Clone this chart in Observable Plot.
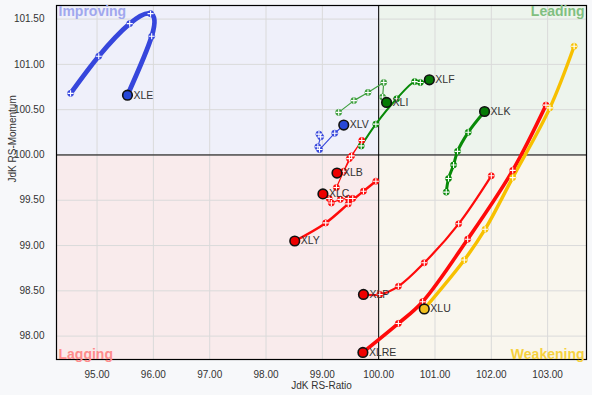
<!DOCTYPE html>
<html><head><meta charset="utf-8">
<script src="https://cdn.jsdelivr.net/npm/d3@7"></script>
<script src="https://cdn.jsdelivr.net/npm/@observablehq/plot@0.6"></script>
<style>
html,body{margin:0;padding:0;background:#f7f8fa;}
</style></head><body><div id="chart"></div>
<script>
// ---- data (tail order: oldest -> latest/head) ----
const tickers = ["XLE","XLV","XLI","XLF","XLK","XLB","XLC","XLY","XLP","XLRE","XLU"];

const XLE_RATIO = [94.53, 95.03, 95.58, 95.95, 95.97, 95.54];
const XLE_MOM   = [100.68, 101.09, 101.45, 101.56, 101.31, 100.66];

const XLV_RATIO = [98.94, 98.97, 98.92, 98.95, 99.22, 99.38];
const XLV_MOM   = [100.23, 100.20, 100.09, 100.06, 100.24, 100.33];

const XLI_RATIO = [99.29, 99.56, 99.81, 100.09, 100.07, 100.14];
const XLI_MOM   = [100.47, 100.60, 100.69, 100.80, 100.64, 100.58];

const XLF_RATIO = [99.69, 99.95, 100.32, 100.64, 100.74, 100.90];
const XLF_MOM   = [100.10, 100.34, 100.62, 100.81, 100.80, 100.83];

const XLK_RATIO = [101.20, 101.24, 101.33, 101.40, 101.59, 101.88];
const XLK_MOM   = [99.59, 99.74, 99.89, 100.04, 100.25, 100.48];

const XLB_RATIO = [99.25, 99.48, 99.70, 99.52, 99.38, 99.26];
const XLB_MOM   = [99.64, 99.96, 100.16, 99.99, 99.82, 99.80];

const XLC_RATIO = [99.54, 99.46, 99.32, 99.16, 99.12, 99.01];
const XLC_MOM   = [99.52, 99.52, 99.51, 99.47, 99.52, 99.57];

const XLY_RATIO = [99.95, 99.73, 99.46, 99.06, 98.51];
const XLY_MOM   = [99.71, 99.60, 99.46, 99.25, 99.05];

const XLP_RATIO = [102.00, 101.42, 100.81, 100.35, 100.02, 99.73];
const XLP_MOM   = [99.77, 99.24, 98.81, 98.55, 98.46, 98.46];

const XLRE_RATIO = [102.97, 102.38, 101.58, 100.78, 100.35, 99.72];
const XLRE_MOM   = [100.55, 99.83, 99.07, 98.38, 98.14, 97.82];

const XLU_RATIO = [103.47, 103.04, 102.38, 101.89, 101.52, 100.81];
const XLU_MOM   = [101.20, 100.52, 99.75, 99.18, 98.84, 98.30];

const xTicks = [95, 96, 97, 98, 99, 100, 101, 102, 103];
const yTicks = [98, 98.5, 99, 99.5, 100, 100.5, 101, 101.5];
const quadrantNames = ["Improving", "Leading", "Lagging", "Weakening"];
const xTitle = "JdK RS-Ratio";
const yTitle = "JdK RS-Momentum";

// ---- styles ----
const BLUE = "#3646dc", GREEN = "#088a08", RED = "#ff0a0a", GOLD = "#f7c000";
const STYLE = {
  XLE:  {color: BLUE,  head: "#2748d8", width: 4.8, curve: "natural"},
  XLV:  {color: BLUE,  head: "#2748d8", width: 1.1, curve: "linear"},
  XLI:  {color: "#3f9f3f", head: "#067a06", width: 1.2, curve: "linear"},
  XLF:  {color: GREEN, head: "#067a06", width: 2.0, curve: "catmull-rom"},
  XLK:  {color: GREEN, head: "#067a06", width: 3.0, curve: "catmull-rom"},
  XLB:  {color: RED,   head: "#ee0000", width: 1.2, curve: "linear"},
  XLC:  {color: RED,   head: "#ee0000", width: 1.2, curve: "linear"},
  XLY:  {color: RED,   head: "#ee0000", width: 2.4, curve: "catmull-rom"},
  XLP:  {color: RED,   head: "#ee0000", width: 2.2, curve: "catmull-rom"},
  XLRE: {color: RED,   head: "#ee0000", width: 3.6, curve: "catmull-rom"},
  XLU:  {color: GOLD,  head: "#f2c01e", width: 3.4, curve: "catmull-rom"}
};
const QUAD_FILL = ["#eff0fa", "#edf4ed", "#f9ebec", "#f9f6ee"];
const QUAD_TEXT = ["#a0a7ee", "#80bf80", "#ff8c8c", "#f6d13e"];

// ---- build table ----
const ratios = [XLE_RATIO, XLV_RATIO, XLI_RATIO, XLF_RATIO, XLK_RATIO, XLB_RATIO, XLC_RATIO, XLY_RATIO, XLP_RATIO, XLRE_RATIO, XLU_RATIO];
const moms   = [XLE_MOM, XLV_MOM, XLI_MOM, XLF_MOM, XLK_MOM, XLB_MOM, XLC_MOM, XLY_MOM, XLP_MOM, XLRE_MOM, XLU_MOM];
const rows = [];
tickers.forEach((t, k) => {
  ratios[k].forEach((r, i) => rows.push({ticker: t, ratio: r, momentum: moms[k][i], head: i === ratios[k].length - 1}));
});
const heads = rows.filter(d => d.head);
const tails = rows.filter(d => !d.head);

const xDomain = [94.28, 103.69];
const yDomain = [97.742, 101.65];
const center = 100;
const quads = [
  {x1: xDomain[0], x2: center, y1: center, y2: yDomain[1], fill: QUAD_FILL[0]},
  {x1: center, x2: xDomain[1], y1: center, y2: yDomain[1], fill: QUAD_FILL[1]},
  {x1: xDomain[0], x2: center, y1: yDomain[0], y2: center, fill: QUAD_FILL[2]},
  {x1: center, x2: xDomain[1], y1: yDomain[0], y2: center, fill: QUAD_FILL[3]}
];
const quadAnchors = ["top-left", "top-right", "bottom-left", "bottom-right"];

const marks = [
  Plot.rect(quads, {x1: "x1", x2: "x2", y1: "y1", y2: "y2", fill: "fill"}),
  Plot.gridX(xTicks, {stroke: "#dadada", strokeOpacity: 1}),
  Plot.gridY(yTicks, {stroke: "#dadada", strokeOpacity: 1}),
  Plot.ruleX([center], {stroke: "black", strokeWidth: 1}),
  Plot.ruleY([center], {stroke: "black", strokeWidth: 1}),
  Plot.frame({stroke: "black", strokeWidth: 1.2}),
  Plot.axisX(xTicks, {tickSize: 0, tickPadding: 11, tickFormat: d3.format(".2f"), label: null, fill: "#333"}),
  Plot.axisY(yTicks, {tickSize: 0, tickPadding: 12, tickFormat: d3.format(".2f"), label: null, fill: "#333"}),
  ...quadrantNames.map((q, i) => Plot.text([q], {
    text: d => d, frameAnchor: quadAnchors[i], dx: i % 2 === 0 ? 2 : -2, dy: i < 2 ? 1 : -1,
    fill: QUAD_TEXT[i], fontSize: 14, fontWeight: "bold"
  }))
];
tickers.forEach(t => {
  marks.push(Plot.line(rows.filter(d => d.ticker === t), {
    x: "ratio", y: "momentum", stroke: STYLE[t].color, strokeWidth: STYLE[t].width,
    curve: STYLE[t].curve, strokeLinecap: "round", strokeLinejoin: "round"
  }));
});
marks.push(
  Plot.dot(tails, {x: "ratio", y: "momentum", r: 3.1, fill: d => STYLE[d.ticker].color, stroke: d => STYLE[d.ticker].color, strokeWidth: 0.6}),
  Plot.dot(tails, {x: "ratio", y: "momentum", r: 2.1, symbol: "plus", stroke: "white", strokeWidth: 1.1}),
  Plot.dot(heads, {x: "ratio", y: "momentum", r: 4.8, fill: d => STYLE[d.ticker].head, stroke: "#111", strokeWidth: 1.6}),
  Plot.text(heads, {x: "ratio", y: "momentum", text: "ticker", textAnchor: "start", dx: 6, fill: "#333", fontSize: 10.5}),
  Plot.text([xTitle], {text: d => d, frameAnchor: "bottom", dy: 29, fill: "#333", fontSize: 10}),
  Plot.text([yTitle], {text: d => d, frameAnchor: "left", dx: -44, rotate: -90, fill: "#333", fontSize: 10})
);

const chart = Plot.plot({
  width: 592, height: 395,
  marginTop: 5, marginRight: 6, marginBottom: 36, marginLeft: 56,
  x: {domain: xDomain},
  y: {domain: yDomain},
  color: {type: "identity"},
  style: {background: "#f7f8fa", fontFamily: "'Liberation Sans', Arial, sans-serif", fontSize: "10px", color: "#333", overflow: "visible"},
  marks
});
document.getElementById("chart").appendChild(chart);
</script></body></html>
